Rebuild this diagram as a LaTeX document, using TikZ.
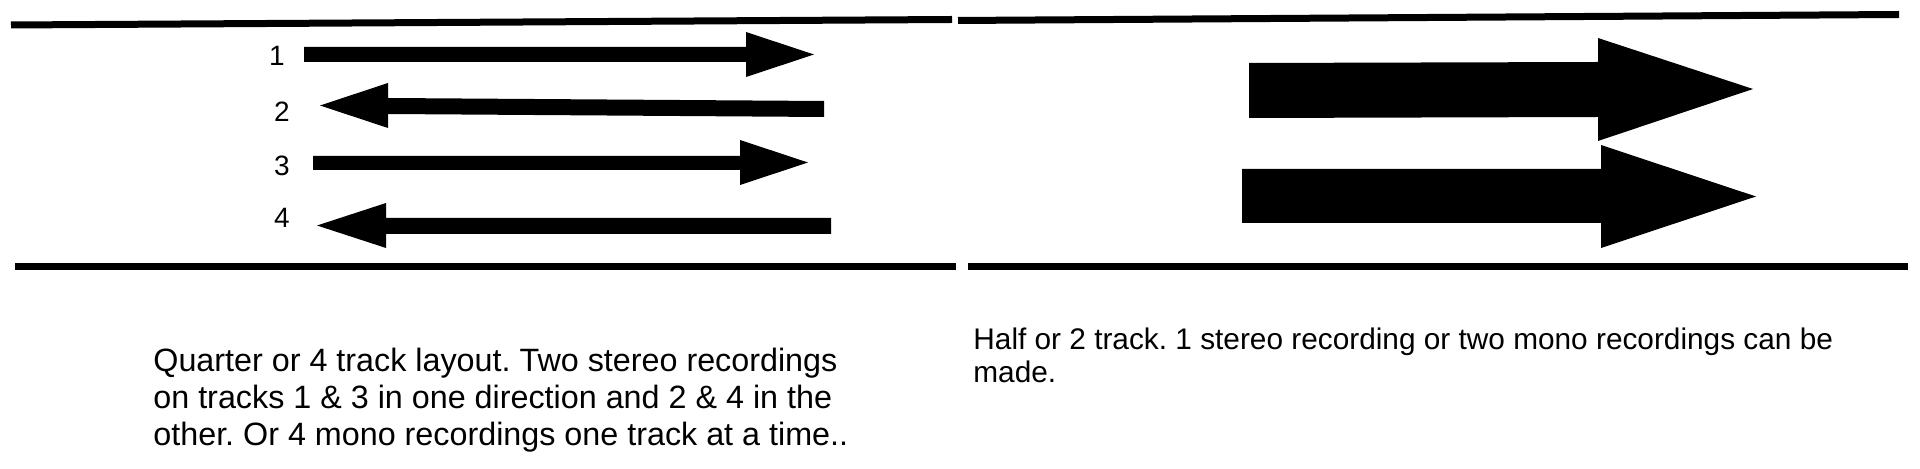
\documentclass[tikz,border=0pt]{standalone}
\usepackage{fontspec}
\setmainfont{Liberation Sans}
\frenchspacing
\usetikzlibrary{positioning}

\begin{document}
\begin{tikzpicture}[x=0.5pt,y=-0.5pt,
  tapeedge/.style={line width=3.5pt},
  tracknum/.style={inner sep=0pt,font=\fontsize{14}{16}\selectfont},
  caption/.style={inner sep=0pt,anchor=base west,align=left}]
\useasboundingbox (0,0) rectangle (1920,469);

% tape edges
\draw[tapeedge] (11,25) -- (952,19.5);
\draw[tapeedge] (958,20.5) -- (1899,14.5);
\draw[tapeedge] (15,267) -- (956,267);
\draw[tapeedge] (968,266.5) -- (1908,266.5);

% quarter track
\node[tracknum] (n1) at (277,56) {1};
\node[tracknum] (n2) at (282,112) {2};
\node[tracknum] (n3) at (282,166) {3};
\node[tracknum] (n4) at (282,218) {4};

\fill (304,47) -- (746,47) -- (746,32) -- (814,54.5) -- (746,77) -- (746,62) -- (304,62) -- cycle;
\fill (320,105.5) -- (388,83) -- (388,98) -- (824,101) -- (824,117) -- (388,114) -- (388,128) -- cycle;
\fill (313,156) -- (740,156) -- (740,140) -- (808,162.5) -- (740,185) -- (740,170) -- (313,170) -- cycle;
\fill (317,225.5) -- (386,203) -- (386,218) -- (831,218) -- (831,234) -- (386,234) -- (386,248) -- cycle;

% half track
\fill (1249,63) -- (1598,62) -- (1598,38) -- (1753,89) -- (1598,141) -- (1598,117) -- (1249,118) -- cycle;
\fill (1242,169) -- (1601,169) -- (1601,145) -- (1756,196.5) -- (1601,248) -- (1601,223) -- (1242,223) -- cycle;

% captions (base anchor sits on the last line)
\node[caption,font=\fontsize{16.15}{18.5}\selectfont] (quarter) at (153,446)
  {Quarter or 4 track layout. Two stereo recordings\\
   on tracks 1 \& 3 in one direction and 2 \& 4 in the\\
   other. Or 4 mono recordings one track at a time..};
\node[caption,font=\fontsize{14.9}{16.5}\selectfont] (half) at (973,383)
  {Half or 2 track. 1 stereo recording or two mono recordings can be\\
   made.};

\end{tikzpicture}
\end{document}
